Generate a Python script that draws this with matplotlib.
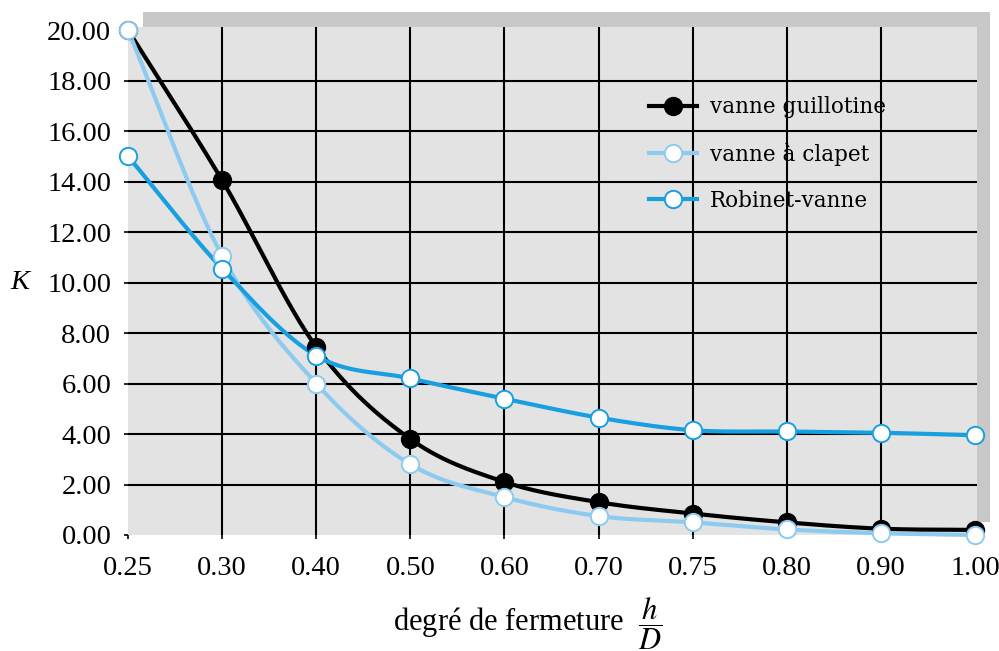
import numpy as np
import matplotlib
matplotlib.use("Agg")
import matplotlib.pyplot as plt
from matplotlib.patches import Rectangle
from matplotlib.lines import Line2D

plt.rcParams['font.family'] = ['Liberation Serif', 'DejaVu Serif']
plt.rcParams['mathtext.fontset'] = 'stix'

# data
ratios = ['0.25', '0.30', '0.40', '0.50', '0.60', '0.70', '0.75', '0.80', '0.90', '1.00']
guillotine = [20.0, 14.05, 7.45, 3.8, 2.1, 1.3, 0.85, 0.5, 0.25, 0.2]
clapet = [20.0, 11.05, 6.0, 2.8, 1.5, 0.75, 0.5, 0.22, 0.07, 0.0]
robinet = [15.0, 10.55, 7.1, 6.2, 5.4, 4.65, 4.15, 4.1, 4.05, 3.95]
yticks = [0, 2, 4, 6, 8, 10, 12, 14, 16, 18, 20]

c_black = '#000000'
c_light = '#8ccbef'
c_blue = '#179fe0'


def smooth(xs, ys, n=30):
    # Catmull-Rom curve through the points (like Excel smoothed lines)
    p = np.column_stack([xs, ys]).astype(float)
    p = np.vstack([2 * p[0] - p[1], p, 2 * p[-1] - p[-2]])
    out = []
    t = np.linspace(0, 1, n)[:, None]
    for i in range(1, len(p) - 2):
        p0, p1, p2, p3 = p[i - 1], p[i], p[i + 1], p[i + 2]
        c1 = p1 + (p2 - p0) / 6
        c2 = p2 - (p3 - p1) / 6
        seg = ((1 - t) ** 3) * p1 + 3 * ((1 - t) ** 2) * t * c1 + 3 * (1 - t) * t ** 2 * c2 + t ** 3 * p2
        out.append(seg if i == 1 else seg[1:])
    out = np.vstack(out)
    return out[:, 0], out[:, 1]


fig = plt.figure(figsize=(9.99, 6.51), dpi=100)
ax = fig.add_axes([128 / 999, 1 - 535 / 651, 849 / 999, 508 / 651])
ax.set_facecolor('#e3e3e3')
for s in ax.spines.values():
    s.set_visible(False)

# drop shadow behind the panel
fig.add_artist(Rectangle((143 / 999, 1 - 522 / 651), 847 / 999, 510 / 651,
                         transform=fig.transFigure, facecolor='#c8c8c8',
                         edgecolor='none', zorder=-1))

x = np.arange(len(ratios))
ax.set_xlim(0, 9.02)
ax.set_ylim(0, 20.12)

for xi in x[1:-1]:
    ax.axvline(xi, color='black', lw=1.5, zorder=1)
for yv in yticks[1:-1]:
    ax.axhline(yv, color='black', lw=1.5, zorder=1)

series = [
    (guillotine, c_black, 'vanne guillotine', c_black),
    (clapet, c_light, 'vanne à clapet', 'white'),
    (robinet, c_blue, 'Robinet-vanne', 'white'),
]
handles = []
for vals, col, lab, face in series:
    sx, sy = smooth(x, vals)
    ax.plot(sx, sy, color=col, lw=3, zorder=3, solid_capstyle='round', clip_on=False)
    ax.plot(x, vals, 'o', ms=12.5, mfc=face, mec=col, mew=1.4, zorder=4, clip_on=False)
    handles.append(Line2D([], [], color=col, lw=3, marker='o', ms=12.5, mfc=face, mec=col, mew=1.4))

ax.set_xticks(x)
ax.set_xticklabels(ratios)
ax.set_yticks(yticks)
ax.set_yticklabels([f'{v:.2f}' for v in yticks])
ax.tick_params(axis='both', labelsize=20.5, length=3, width=1.2, color='black', direction='out')
ax.tick_params(axis='x', pad=12)
ax.tick_params(axis='y', pad=9)

fig.text(20 / 999, 1 - 283 / 651, 'K', fontsize=20.5, style='italic', ha='center', va='center')
fig.text(528 / 999, 1 - 624 / 651, r'degré de fermeture  $\dfrac{h}{D}$', fontsize=22,
         ha='center', va='center')

leg = ax.legend(handles, [s[2] for s in series], loc='upper left',
                bbox_to_anchor=(630 / 999, 1 - 77 / 651), bbox_transform=fig.transFigure,
                frameon=False, prop={'family': 'DejaVu Serif', 'size': 15.5},
                handlelength=2.2, handletextpad=0.6, labelspacing=1.13)

fig.savefig('out.png', dpi=100)
